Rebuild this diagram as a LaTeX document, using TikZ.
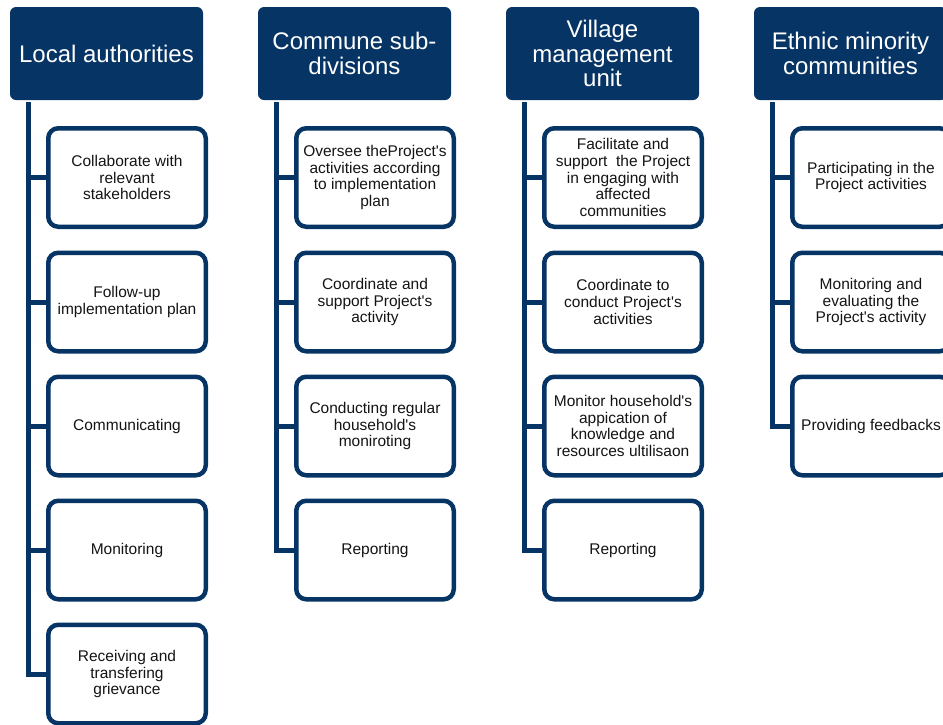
\documentclass[tikz,border=0pt]{standalone}
\usepackage{fontspec}
\setmainfont{Liberation Sans}
\newcommand{\ap}{\textquotesingle}
\definecolor{navy}{RGB}{6,52,100}
\definecolor{txt}{RGB}{20,20,20}
\begin{document}
\begin{tikzpicture}[x=1pt,y=-1pt,
  header/.style={fill=navy, rounded corners=6pt, minimum width=193pt, minimum height=93pt,
    inner sep=0pt, text=white, align=center, font=\fontsize{24}{24.5}\selectfont},
  child/.style={draw=navy, line width=4.5pt, fill=white, rounded corners=10pt,
    minimum width=157.5pt, minimum height=98.5pt, inner sep=0pt, text=txt, align=center,
    font=\fontsize{15.5}{16.7}\selectfont},
  link/.style={draw=navy, line width=5pt}]
\useasboundingbox (0,0) rectangle (943,724);
\clip (0,0) rectangle (943,724);

% Column 1
\node[header] (h1) at (106.5,53.5) {Local authorities};
\node[child] (a1) at (127,177.5) {Collaborate with\\relevant\\stakeholders};
\node[child] (a2) at (127,302) {Follow-up\\implementation plan};
\node[child] (a3) at (127,426) {Communicating};
\node[child] (a4) at (127,550) {Monitoring};
\node[child] (a5) at (127,674) {Receiving and\\transfering\\grievance};
\coordinate (v1) at (28,102);
\draw[link] (v1) |- (a5.west);
\foreach \n in {a1,a2,a3,a4} \draw[link] (v1 |- \n.west) -- (\n.west);

% Column 2
\node[header] (h2) at (354.5,53.5) {Commune sub-\\divisions};
\node[child] (b1) at (375,177.5) {Oversee theProject\ap s\\activities according\\to implementation\\plan};
\node[child] (b2) at (375,302) {Coordinate and\\support Project\ap s\\activity};
\node[child] (b3) at (375,426) {Conducting regular\\household\ap s\\moniroting};
\node[child] (b4) at (375,550) {Reporting};
\coordinate (v2) at (276,102);
\draw[link] (v2) |- (b4.west);
\foreach \n in {b1,b2,b3} \draw[link] (v2 |- \n.west) -- (\n.west);

% Column 3
\node[header] (h3) at (602.5,53.5) {Village\\management\\unit};
\node[child] (c1) at (623,177.5) {Facilitate and\\support\ \ the Project\\in engaging with\\affected\\communities};
\node[child] (c2) at (623,302) {Coordinate to\\conduct Project\ap s\\activities};
\node[child] (c3) at (623,426) {Monitor household\ap s\\appication of\\knowledge and\\resources ultilisaon};
\node[child] (c4) at (623,550) {Reporting};
\coordinate (v3) at (524,102);
\draw[link] (v3) |- (c4.west);
\foreach \n in {c1,c2,c3} \draw[link] (v3 |- \n.west) -- (\n.west);

% Column 4
\node[header] (h4) at (850.5,53.5) {Ethnic minority\\communities};
\node[child] (d1) at (871,177.5) {Participating in the\\Project activities};
\node[child] (d2) at (871,302) {Monitoring and\\evaluating the\\Project\ap s activity};
\node[child] (d3) at (871,426) {Providing feedbacks};
\coordinate (v4) at (772,102);
\draw[link] (v4) |- (d3.west);
\foreach \n in {d1,d2} \draw[link] (v4 |- \n.west) -- (\n.west);
\end{tikzpicture}
\end{document}
